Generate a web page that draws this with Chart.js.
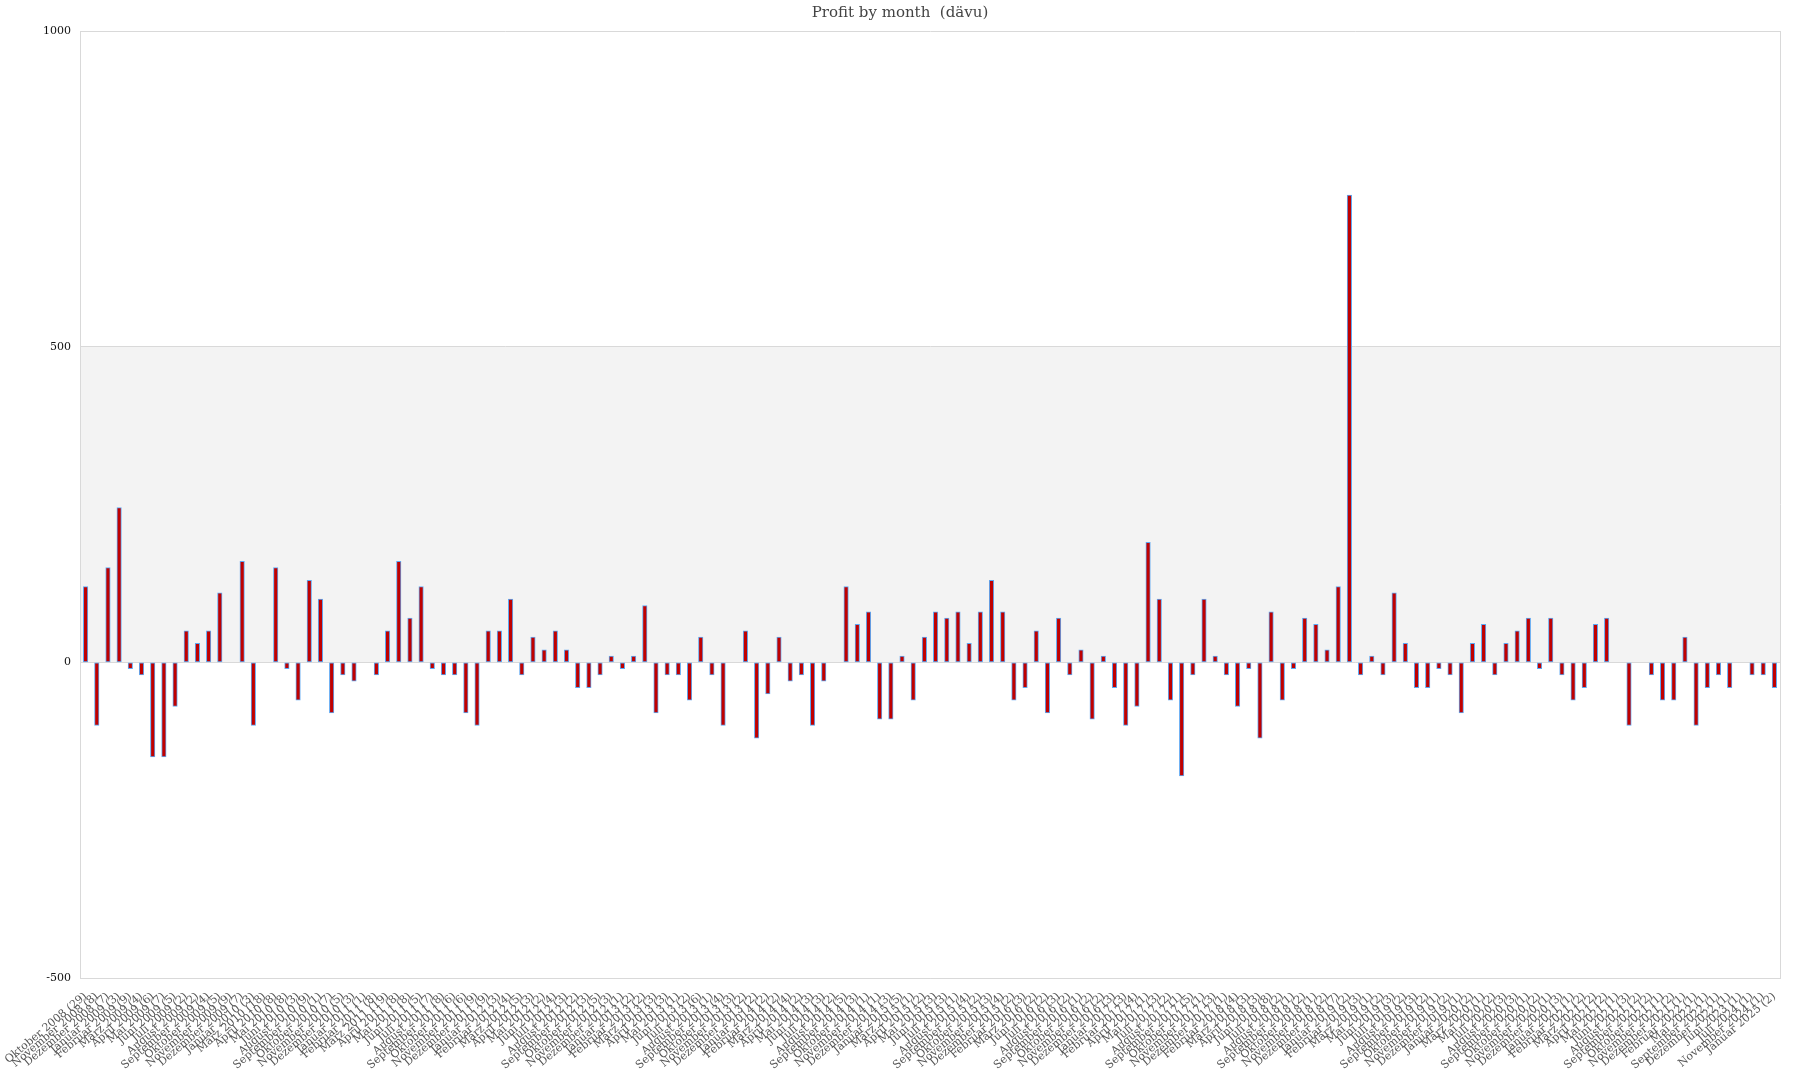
<!DOCTYPE html>
<html lang="de">
<head>
  <meta charset="UTF-8">
  <title>Profit by month</title>
  <script src="https://cdn.jsdelivr.net/npm/chart.js"></script>
  <style>
    body {
      margin: 0;
      background: #ffffff;
    }
    .wrap {
      width: 1800px;
      height: 1080px;
    }
  </style>
</head>
<body>
  <div class="wrap">
    <canvas id="profitChart" width="1800" height="1080"></canvas>
  </div>

  <script>
    // months shown on the x axis, with the number of entries in brackets
    const months = [
      "Oktober 2008 (29)", "November 2008 (8)", "Dezember 2008 (7)",
      "Januar 2009 (3)", "Februar 2009 (9)", "März 2009 (4)", "April 2009 (6)", "Mai 2009 (7)", "Juni 2009 (5)",
      "Juli 2009 (2)", "August 2009 (2)", "September 2009 (4)", "Oktober 2009 (5)", "November 2009 (9)", "Dezember 2009 (7)",
      "Januar 2010 (3)", "März 2010 (18)", "April 2010 (8)", "Mai 2010 (8)", "Juni 2010 (3)",
      "August 2010 (9)", "September 2010 (1)", "Oktober 2010 (7)", "November 2010 (5)", "Dezember 2010 (3)",
      "Januar 2011 (1)", "Februar 2011 (8)", "März 2011 (19)", "April 2011 (8)", "Mai 2011 (8)", "Juni 2011 (5)",
      "Juli 2011 (7)", "August 2011 (8)", "September 2011 (6)", "Oktober 2011 (6)", "November 2011 (9)", "Dezember 2011 (9)",
      "Januar 2012 (3)", "Februar 2012 (4)", "März 2012 (5)", "April 2012 (3)", "Mai 2012 (2)", "Juni 2012 (4)",
      "Juli 2012 (3)", "August 2012 (2)", "September 2012 (3)", "Oktober 2012 (5)", "November 2012 (3)", "Dezember 2012 (1)",
      "Januar 2013 (2)", "Februar 2013 (2)", "März 2013 (3)", "April 2013 (3)", "Mai 2013 (1)", "Juni 2013 (2)",
      "Juli 2013 (6)", "August 2013 (1)", "September 2013 (4)", "Oktober 2013 (3)", "November 2013 (2)", "Dezember 2013 (2)",
      "Januar 2014 (2)", "Februar 2014 (2)", "März 2014 (4)", "April 2014 (2)", "Mai 2014 (3)", "Juni 2014 (3)",
      "Juli 2014 (2)", "August 2014 (5)", "September 2014 (3)", "Oktober 2014 (1)", "November 2014 (1)", "Dezember 2014 (3)",
      "Januar 2015 (5)", "März 2015 (1)", "April 2015 (2)", "Mai 2015 (3)", "Juni 2015 (3)",
      "Juli 2015 (1)", "August 2015 (4)", "September 2015 (2)", "Oktober 2015 (3)", "November 2015 (4)", "Dezember 2015 (2)",
      "Februar 2016 (3)", "März 2016 (2)", "Juni 2016 (2)", "Juli 2016 (3)", "August 2016 (2)",
      "September 2016 (1)", "Oktober 2016 (2)", "November 2016 (2)", "Dezember 2016 (3)",
      "Januar 2017 (3)", "Februar 2017 (4)", "April 2017 (1)", "Mai 2017 (3)", "Juli 2017 (2)",
      "August 2017 (1)", "September 2017 (5)", "Oktober 2017 (1)", "November 2017 (3)", "Dezember 2017 (1)",
      "Februar 2018 (4)", "März 2018 (3)", "April 2018 (3)", "Juni 2018 (8)", "Juli 2018 (2)",
      "August 2018 (1)", "September 2018 (2)", "Oktober 2018 (1)", "November 2018 (2)", "Dezember 2018 (7)",
      "Januar 2019 (2)", "Februar 2019 (3)", "März 2019 (1)", "Mai 2019 (2)", "Juni 2019 (3)", "Juli 2019 (2)",
      "August 2019 (3)", "September 2019 (2)", "Oktober 2019 (1)", "November 2019 (2)", "Dezember 2019 (1)",
      "Januar 2020 (2)", "März 2020 (1)", "Mai 2020 (2)", "Juli 2020 (3)", "August 2020 (3)",
      "September 2020 (1)", "Oktober 2020 (2)", "November 2020 (1)", "Dezember 2020 (3)",
      "Januar 2021 (1)", "Februar 2021 (2)", "März 2021 (2)", "April 2021 (2)", "Mai 2021 (1)", "Juni 2021 (3)",
      "August 2021 (2)", "September 2021 (2)", "Oktober 2021 (1)", "November 2021 (2)", "Dezember 2021 (1)",
      "Februar 2022 (1)", "Mai 2022 (1)", "September 2022 (1)", "Dezember 2022 (1)",
      "Juni 2023 (1)", "Juli 2024 (1)", "November 2024 (1)", "Januar 2025 (2)"
    ];

    // profit per month (dävu)
    const profit = [
      120, -100, 150, 245, -10, -20, -150, -150, -70, 50, 30, 50, 110, 0, 160, -100, 0, 150, -10, -60, 130, 100, -80, -20, -30, 0,
      -20, 50, 160, 70, 120, -10, -20, -20, -80, -100, 50, 50, 100, -20, 40, 20, 50, 20, -40, -40, -20, 10, -10, 10, 90, -80,
      -20, -20, -60, 40, -20, -100, 0, 50, -120, -50, 40, -30, -20, -100, -30, 0, 120, 60, 80, -90, -90, 10, -60, 40, 80, 70,
      80, 30, 80, 130, 80, -60, -40, 50, -80, 70, -20, 20, -90, 10, -40, -100, -70, 190, 100, -60, -180, -20, 100, 10, -20, -70,
      -10, -120, 80, -60, -10, 70, 60, 20, 120, 740, -20, 10, -20, 110, 30, -40, -40, -10, -20, -80, 30, 60, -20, 30, 50, 70,
      -10, 70, -20, -60, -40, 60, 70, 0, -100, 0, -20, -60, -60, 40, -100, -40, -20, -40, 0, -20, -20, -40
    ];

    const yTicks = [-500, 0, 500, 1000];
    const band = [0, 500];

    const serif = "'DejaVu Serif', 'Liberation Serif', serif";

    // grey band behind the bars + frame on the right
    const frame = {
      id: "frame",
      beforeDraw(chart) {
        const { ctx, chartArea, scales } = chart;
        const top = scales.y.getPixelForValue(band[1]);
        const bottom = scales.y.getPixelForValue(band[0]);
        ctx.save();
        ctx.fillStyle = "#f3f3f3";
        ctx.fillRect(chartArea.left, top, chartArea.right - chartArea.left, bottom - top);
        ctx.restore();
      },
      afterDraw(chart) {
        const { ctx, chartArea } = chart;
        ctx.save();
        ctx.strokeStyle = "#d9d9d9";
        ctx.lineWidth = 1;
        ctx.beginPath();
        ctx.moveTo(Math.round(chartArea.right) + 0.5, chartArea.top);
        ctx.lineTo(Math.round(chartArea.right) + 0.5, chartArea.bottom);
        ctx.stroke();
        ctx.restore();
      }
    };

    new Chart(document.getElementById("profitChart"), {
      type: "bar",
      data: {
        labels: months,
        datasets: [{
          label: "Profit",
          data: profit,
          backgroundColor: "#c00000",
          borderColor: "#5fa8f2",
          borderWidth: 1,
          borderSkipped: false,
          barThickness: 4.5
        }]
      },
      options: {
        responsive: false,
        animation: false,
        layout: { padding: 0 },
        plugins: {
          legend: { display: false },
          tooltip: { enabled: false },
          title: {
            display: true,
            text: "Profit by month  (dävu)",
            color: "#444",
            font: { family: serif, size: 15, weight: "normal" },
            padding: { top: 4, bottom: 9 }
          }
        },
        scales: {
          x: {
            grid: { display: false },
            border: { color: "#d9d9d9" },
            ticks: {
              autoSkip: false,
              minRotation: 40,
              maxRotation: 40,
              color: "#555",
              padding: 4,
              font: { family: serif, size: 11 }
            },
            afterFit(axis) { axis.height = 102; }
          },
          y: {
            min: yTicks[0],
            max: yTicks[yTicks.length - 1],
            afterBuildTicks(axis) { axis.ticks = yTicks.map(v => ({ value: v })); },
            grid: { color: "#d9d9d9", drawTicks: false },
            border: { color: "#d9d9d9" },
            ticks: {
              color: "#111",
              padding: 9,
              font: { family: serif, size: 11 },
              callback: v => String(v)
            },
            afterFit(axis) { axis.width = 80; }
          },
          // empty axis on the right, keeps a 20px margin so the title stays centred on the page
          yRight: {
            position: "right",
            grid: { display: false },
            border: { display: false },
            ticks: { display: false },
            afterFit(axis) { axis.width = 20; }
          }
        }
      },
      plugins: [frame]
    });
  </script>
</body>
</html>
